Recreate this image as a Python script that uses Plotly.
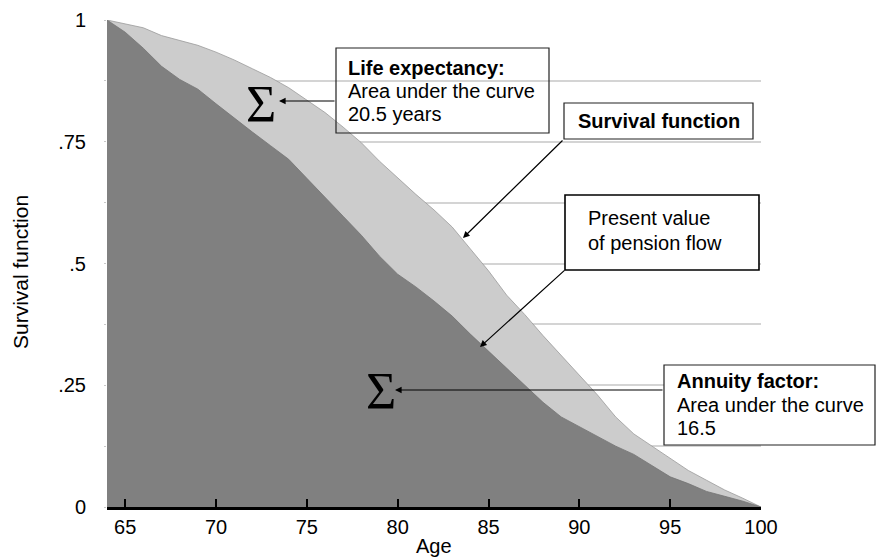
import plotly.graph_objects as go

# ---- data ----
age = list(range(64, 101))
survival = [1.000, 0.992, 0.984, 0.968, 0.958, 0.948, 0.934, 0.918, 0.900, 0.882,
            0.861, 0.835, 0.810, 0.780, 0.748, 0.710, 0.675, 0.642, 0.610, 0.575,
            0.530, 0.485, 0.435, 0.395, 0.352, 0.312, 0.270, 0.230, 0.185, 0.150,
            0.125, 0.100, 0.075, 0.055, 0.035, 0.018, 0.000]
present_value = [1.000, 0.975, 0.942, 0.905, 0.878, 0.858, 0.828, 0.798, 0.770, 0.742,
                 0.714, 0.675, 0.635, 0.597, 0.558, 0.515, 0.478, 0.452, 0.423, 0.392,
                 0.355, 0.320, 0.283, 0.250, 0.215, 0.185, 0.165, 0.145, 0.125, 0.108,
                 0.085, 0.062, 0.048, 0.032, 0.022, 0.012, 0.000]
x_ticks = [65, 70, 75, 80, 85, 90, 95, 100]
y_tickvals = [0, 0.125, 0.25, 0.375, 0.5, 0.625, 0.75, 0.875, 1]
y_ticktext = ["0", "", ".25", "", ".5", "", ".75", "", "1"]

# ---- layout geometry ----
W, H = 876, 560
L, R, T, B = 107, 761, 20, 507


def px(X):
    return (X - L) / (R - L)


def py(Y):
    return (B - Y) / (B - T)


FONT = "Liberation Sans, Arial, sans-serif"

fig = go.Figure()
fig.add_trace(go.Scatter(x=age, y=survival, mode="lines", fill="tozeroy",
                         fillcolor="#cccccc", line=dict(color="#9a9a9a", width=0.8),
                         name="Survival function", showlegend=False, hoverinfo="skip"))
fig.add_trace(go.Scatter(x=age, y=present_value, mode="lines", fill="tozeroy",
                         fillcolor="#808080", line=dict(color="#747474", width=0.8),
                         name="Present value of pension flow", showlegend=False,
                         hoverinfo="skip"))

shapes = []
annotations = []


def box(x0, y0, x1, y1, fill="rgba(0,0,0,0)", width=1.2, color="#222222"):
    shapes.append(dict(type="rect", xref="paper", yref="paper",
                       x0=px(x0), x1=px(x1), y0=py(y1), y1=py(y0),
                       line=dict(color=color, width=width), fillcolor=fill,
                       layer="above"))


def text(t, X, Y, anchor="left", size=20):
    annotations.append(dict(text=t, xref="paper", yref="paper", x=px(X), y=py(Y),
                            xanchor=anchor, yanchor="middle", showarrow=False,
                            font=dict(family=FONT, size=size, color="black")))


def arrow(hx, hy, tx, ty):
    annotations.append(dict(text="", xref="paper", yref="paper", x=px(hx), y=py(hy),
                            ax=tx - hx, ay=ty - hy, axref="pixel", ayref="pixel",
                            showarrow=True, arrowhead=2, arrowsize=1.1,
                            arrowwidth=1.2, arrowcolor="black"))


def sigma(X, Y):
    annotations.append(dict(text="Σ", xref="paper", yref="paper", x=px(X), y=py(Y),
                            xanchor="center", yanchor="middle", showarrow=False,
                            font=dict(family="Liberation Serif, Times New Roman, serif",
                                      size=52, color="black")))


# Life expectancy box
box(336, 48, 549, 133)
text("<b>Life expectancy:</b>", 346, 68)
text("Area under the curve", 346, 91)
text("20.5 years", 346, 114)
arrow(279, 101, 336, 101)
sigma(261, 104)

# Survival function box
box(564, 103, 753, 139, fill="white")
text("<b>Survival function</b>", 658.5, 121, anchor="center")
arrow(463, 238, 564, 139)

# Present value box
box(565, 195, 759, 270, fill="white", width=1.6, color="black")
text("Present value", 586, 218)
text("of pension flow", 586, 243)
arrow(480, 347, 566, 269)

# Annuity factor box
box(664, 365, 875, 445, fill="white")
text("<b>Annuity factor:</b>", 675, 381)
text("Area under the curve", 675, 405)
text("16.5", 675, 428)
arrow(395, 390, 664, 390)
sigma(381, 391)

# axis titles
annotations.append(dict(text="Age", xref="paper", yref="paper",
                        x=px((L + R) / 2), y=0, yshift=-(559 - B),
                        xanchor="center", yanchor="bottom", showarrow=False,
                        font=dict(family=FONT, size=20, color="black")))
annotations.append(dict(text="Survival function", xref="paper", yref="paper",
                        x=px(20), y=py(272), xanchor="center", yanchor="middle",
                        textangle=-90, showarrow=False,
                        font=dict(family=FONT, size=21, color="black")))

fig.update_layout(
    width=W, height=H,
    margin=dict(l=L, r=W - R, t=T, b=H - B, autoexpand=False),
    paper_bgcolor="white", plot_bgcolor="white",
    font=dict(family=FONT, size=20, color="black"),
    shapes=shapes, annotations=annotations,
    xaxis=dict(range=[64, 100], tickvals=x_ticks, ticks="inside", ticklen=8,
               tickwidth=2, tickcolor="black", showline=True, linecolor="black",
               linewidth=2.5, showgrid=False, zeroline=False,
               tickfont=dict(family=FONT, size=20, color="black")),
    yaxis=dict(range=[0, 1], tickvals=y_tickvals, ticktext=y_ticktext,
               ticks="outside", ticklen=2, tickcolor="#c8c8c8", showline=False,
               showgrid=True, gridcolor="#d4d4d4", gridwidth=1.5, zeroline=False,
               ticklabelstandoff=14,
               tickfont=dict(family=FONT, size=20, color="black")),
)

fig.write_html("out.html",
               config={"displayModeBar": False},
               post_script="document.body.style.margin='0';"
                           "document.body.style.padding='0';")
